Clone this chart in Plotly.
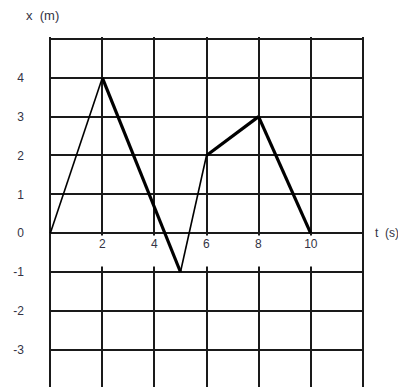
import plotly.graph_objects as go

# position-time data
t_vals = [0, 2, 5, 6, 8, 10]
x_vals = [0, 4, -1, 2, 3, 0]
y_tick_vals = [-4, -3, -2, -1, 0, 1, 2, 3, 4, 5]
y_tick_text = ["", "-3", "-2", "-1", "0", "1", "2", "3", "4", ""]
t_label_vals = [2, 4, 6, 8, 10]

# heavy segments in the original drawing
thick = [False, True, False, True, True]

FONT = "Liberation Sans, Arial"
TXT = "#333344"

# the page body adds an 8px margin, so the figure is 8px smaller
W, H = 398, 379
ML, MR, MT, MB = 41, 42, 29, 0

fig = go.Figure()

for i in range(len(t_vals) - 1):
    fig.add_trace(
        go.Scatter(
            x=t_vals[i:i + 2],
            y=x_vals[i:i + 2],
            mode="lines",
            line=dict(color="black", width=3.2 if thick[i] else 1.6),
            showlegend=False,
            hoverinfo="skip",
        )
    )

# t labels sit in white boxes that interrupt the vertical grid lines
for t in t_label_vals:
    fig.add_annotation(
        x=t, y=0, xref="x", yref="y",
        text=str(t),
        showarrow=False,
        yanchor="top",
        valign="top",
        yshift=-2,
        width=13 if t < 10 else 18,
        height=28,
        bgcolor="white",
        font=dict(family=FONT, size=12, color=TXT),
    )

plot_w = W - ML - MR
plot_h = H - MT - MB
fig.add_annotation(
    x=(16 - ML) / plot_w, y=1 + (MT - 8) / plot_h,
    xref="paper", yref="paper",
    text="x  (m)", showarrow=False, xanchor="left", yanchor="middle",
    font=dict(family=FONT, size=13, color=TXT),
)
fig.add_annotation(
    x=1 + 9 / plot_w, y=0, xref="paper", yref="y",
    text="t  (s)", showarrow=False, xanchor="left", yanchor="middle",
    font=dict(family=FONT, size=12, color=TXT),
)

fig.update_layout(
    width=W,
    height=H,
    margin=dict(l=ML, r=MR, t=MT, b=MB, autoexpand=False),
    paper_bgcolor="white",
    plot_bgcolor="white",
    font=dict(family=FONT, size=12, color=TXT),
    xaxis=dict(
        range=[-0.05, 12.05],
        tickvals=list(range(0, 13, 2)),
        showticklabels=False,
        showgrid=True,
        gridcolor="#1a1a1a",
        gridwidth=1.6,
        zeroline=False,
        showline=False,
        automargin=False,
        fixedrange=True,
    ),
    yaxis=dict(
        range=[-3.96, 5.05],
        tickvals=y_tick_vals,
        ticktext=y_tick_text,
        ticks="",
        ticklabelstandoff=24,
        showgrid=True,
        gridcolor="#1a1a1a",
        gridwidth=1.6,
        zeroline=False,
        showline=False,
        automargin=False,
        fixedrange=True,
    ),
)

fig.write_html("out.html")
